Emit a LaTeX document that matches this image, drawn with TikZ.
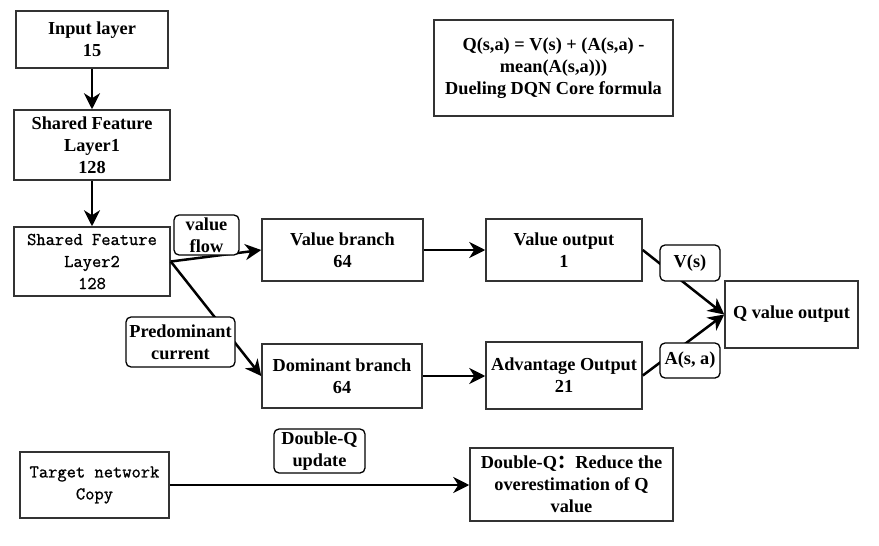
\documentclass[tikz,border=0pt]{standalone}
\usepackage{fontspec}
\setmainfont{Liberation Serif}
\setmonofont{Latin Modern Mono}[FakeBold=1]
\newfontfamily\cjk{Noto Sans CJK SC}
\usetikzlibrary{arrows.meta}

\tikzset{
  box/.style={draw=black!80, line width=1.5pt, fill=white, align=center, inner sep=2pt,
    font=\bfseries\fontsize{18.3}{22}\selectfont},
  mbox/.style={box, font=\ttfamily\fontsize{18}{22}\selectfont},
  lbl/.style={draw=black, line width=1.3pt, rounded corners=5pt, fill=white, align=center,
    inner sep=1pt, font=\bfseries\fontsize{18.3}{22}\selectfont},
  link/.style={line width=2.5pt, -{Stealth[length=16pt,width=16pt,inset=5pt]}}
}

\begin{document}
\begin{tikzpicture}[x=1pt,y=-1pt]
\useasboundingbox (0,0) rectangle (879,546);

\node[box, minimum width=152pt, minimum height=57pt] (inp) at (92,39.5) {Input layer\\15};
\node[box, minimum width=156pt, minimum height=70pt] (sfa) at (92,145) {Shared Feature\\Layer1\\128};
\node[mbox, minimum width=156pt, minimum height=69pt] (sfb) at (92,261.5) {Shared Feature\\Layer2\\128};

\node[box, minimum width=161pt, minimum height=62pt] (vbr) at (342.5,250) {Value branch\\64};
\node[box, minimum width=160pt, minimum height=64pt] (dbr) at (342,376) {Dominant branch\\64};
\node[box, minimum width=156pt, minimum height=62pt] (vout) at (564,250) {Value output\\1};
\node[box, minimum width=156pt, minimum height=67pt] (aout) at (564,375.5) {Advantage Output\\21};
\node[box, minimum width=133pt, minimum height=67pt] (qout) at (791.5,314.5) {Q value output};

\node[box, minimum width=239pt, minimum height=96pt] (form) at (553.5,68) {Q(s,a) = V(s) + (A(s,a) -\\mean(A(s,a)))\\Dueling DQN Core formula};

\node[mbox, minimum width=149pt, minimum height=66pt] (tnet) at (94.5,485) {Target network\\Copy};
\node[box, minimum width=203pt, minimum height=73pt] (dq) at (571.5,484.5) {Double-Q{\cjk ：}Reduce the\\overestimation of Q\\value};

\draw[link] (inp) -- (sfa);
\draw[link] (sfa) -- (sfb);
\draw[link] (sfb.east) -- (vbr.west) node[lbl, minimum width=65pt, minimum height=40pt] (vflow) at (206.5,235) {value\\flow};
\draw[link] (sfb.east) -- (dbr.west) node[lbl, minimum width=109pt, minimum height=50pt] (pcur) at (180.5,342) {Predominant\\current};
\draw[link] (vbr) -- (vout);
\draw[link] (dbr.east) -- (aout.west |- dbr.east);
\draw[link] (vout.east) -- (qout.west) node[lbl, minimum width=60pt, minimum height=36pt] (vs) at (690,263) {V(s)};
\draw[link] (aout.east) -- (qout.west) node[lbl, minimum width=60pt, minimum height=35pt] (asa) at (690,360.5) {A(s, a)};
\draw[link] (tnet.east) -- (dq.west |- tnet.east) node[lbl, minimum width=91pt, minimum height=44pt] (dqu) at (319.5,451) {Double-Q\\update};

\end{tikzpicture}
\end{document}
